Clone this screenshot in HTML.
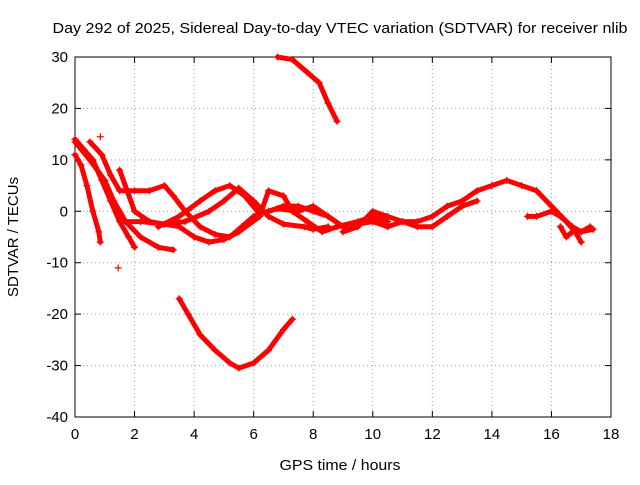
<!DOCTYPE html>
<html><head><meta charset="utf-8"><style>
body{margin:0;background:#fff;}
svg text{font-family:"Liberation Sans",sans-serif;font-size:15px;fill:#000;}
</style></head><body>
<svg id="chart" width="640" height="480">
<rect width="640" height="480" fill="#fff"/>
<text x="340" y="33" text-anchor="middle" textLength="575" lengthAdjust="spacingAndGlyphs">Day 292 of 2025, Sidereal Day-to-day VTEC variation (SDTVAR) for receiver nlib</text>
<g id="grid"></g><g id="axes"></g><g id="marks"></g>
<text x="340" y="470" text-anchor="middle" textLength="121" lengthAdjust="spacingAndGlyphs">GPS time / hours</text>
<text x="18" y="237" text-anchor="middle" textLength="120" lengthAdjust="spacingAndGlyphs" transform="rotate(-90 18 237)">SDTVAR / TECUs</text>
</svg>
<script>
const xTicks=[0,2,4,6,8,10,12,14,16,18];
const yTicks=[-40,-30,-20,-10,0,10,20,30];
const track1=[[6.8,30],[7.3,29.5],[7.8,27],[8.2,25],[8.5,21],[8.8,17.5]];
const track2=[[3.5,-17],[3.8,-20],[4.2,-24],[4.7,-27],[5.2,-29.5],[5.5,-30.5],[6,-29.5],[6.5,-27],[7,-23],[7.3,-21]];
const track3=[[0,11],[0.2,9],[0.4,5],[0.6,0],[0.8,-4],[0.85,-6]];
const track4=[[0,14],[0.3,12],[0.6,10],[0.9,6],[1.2,2],[1.5,-2],[1.8,-5],[2,-7]];
const track5=[[0,13.5],[0.5,10],[1,6],[1.3,2],[1.7,-2],[2.2,-5],[2.8,-7],[3.3,-7.5]];
const track6=[[0.5,13.5],[0.9,11],[1.2,7],[1.5,4],[2,4],[2.5,4],[3,5],[3.3,3],[3.7,0],[4.2,-3],[4.7,-4.5],[5.2,-5],[5.6,-3],[6,-1],[6.5,0],[7,1],[7.5,1],[8,0],[8.5,-1],[9,-3]];
const track7=[[1.2,2],[1.6,-2],[2.2,-2],[3,-2.5],[3.7,-2],[4.5,0],[5,2],[5.5,4.5],[6,2],[6.5,-1],[7,-2.5],[7.7,-3],[8,-3.5],[8.5,-3]];
const track8=[[1.5,8],[2,0],[2.5,-2],[3.5,-3],[4,-5],[4.5,-6],[5,-5.5],[5.5,-4],[6.2,-1],[6.5,4],[7,3],[7.3,0],[7.8,-2],[8.3,-4],[8.8,-3],[9.5,-2],[10,-1],[10.5,-2]];
const track9=[[2.8,-3],[3.5,-1],[4.2,2],[4.7,4],[5.2,5],[5.7,3],[6.2,-0.5],[6.8,0.5],[7.5,0],[8,1],[8.5,-1],[9,-3],[10,-2],[10.5,-3],[11,-2],[11.5,-3],[12,-3],[12.5,-1],[13,1],[13.5,2]];
const track10=[[9,-4],[9.5,-3],[10,0],[10.5,-1],[11,-2],[11.5,-2],[12,-1],[12.5,1],[13,2],[13.5,4],[14,5],[14.5,6],[15,5],[15.5,4],[16,1],[16.5,-2],[16.8,-4],[17,-6]];
const track11=[[15.2,-1],[15.5,-1],[16,0],[16.3,-1],[16.7,-3],[17,-4],[17.3,-3]];
const track12=[[16.3,-3],[16.5,-5],[16.7,-4],[17,-4],[17.4,-3.5]];
const outliers=[[1.45,-11],[0.85,14.5]];
const tracks=[track1,track2,track3,track4,track5,track6,track7,track8,track9,track10,track11,track12];
const L=75,R=611,T=57,B=417;
const xs=v=>L+(v-0)/18*(R-L);
const ys=v=>B-(v+40)/70*(B-T);
const NS="http://www.w3.org/2000/svg";
function mk(tag,attrs,parent){const e=document.createElementNS(NS,tag);for(const k in attrs)e.setAttribute(k,attrs[k]);parent.appendChild(e);return e;}
const grid=document.getElementById('grid'),axes=document.getElementById('axes'),marks=document.getElementById('marks');
xTicks.forEach(t=>{
  const x=xs(t);
  if(t>0&&t<18){const g=mk('line',{x1:x,x2:x,y1:T,y2:B,stroke:'#a0a0a0','stroke-dasharray':'1,3'},grid);
  
  }
  mk('line',{x1:x,x2:x,y1:B,y2:B-6,stroke:'#000'},axes);
  mk('line',{x1:x,x2:x,y1:T,y2:T+6,stroke:'#000'},axes);
  const tx=mk('text',{x:x,y:B+22,'text-anchor':'middle'},axes);tx.textContent=t;
  
  
});
yTicks.forEach(t=>{
  const y=ys(t);
  if(t>-40&&t<30){const g=mk('line',{x1:L,x2:R,y1:y,y2:y,stroke:'#a0a0a0','stroke-dasharray':'1,3'},grid);
  
  }
  mk('line',{x1:L,x2:L+6,y1:y,y2:y,stroke:'#000'},axes);
  mk('line',{x1:R,x2:R-6,y1:y,y2:y,stroke:'#000'},axes);
  const tx=mk('text',{x:L-7,y:y+5,'text-anchor':'end'},axes);tx.textContent=t;
  
  
});
const frame=mk('rect',{x:L,y:T,width:R-L,height:B-T,fill:'none',stroke:'#000'},axes);


function plus(p,parent){
  const x=xs(p[0]),y=ys(p[1]);
  const e=mk('path',{d:`M${x-3.5},${y}H${x+3.5}M${x},${y-3.5}V${y+3.5}`,stroke:'#f00','stroke-width':1.2,fill:'none'},parent);
  
  
}
tracks.forEach((tr,i)=>{
  const g=mk('g',{},marks);
  
  
  mk('polyline',{points:tr.map(p=>xs(p[0])+','+ys(p[1])).join(' '),fill:'none',stroke:'#f00','stroke-width':5,'stroke-linejoin':'round','stroke-linecap':'round'},g);
  tr.forEach(p=>plus(p,g));
});
outliers.forEach(p=>plus(p,marks));
</script>
</body></html>
